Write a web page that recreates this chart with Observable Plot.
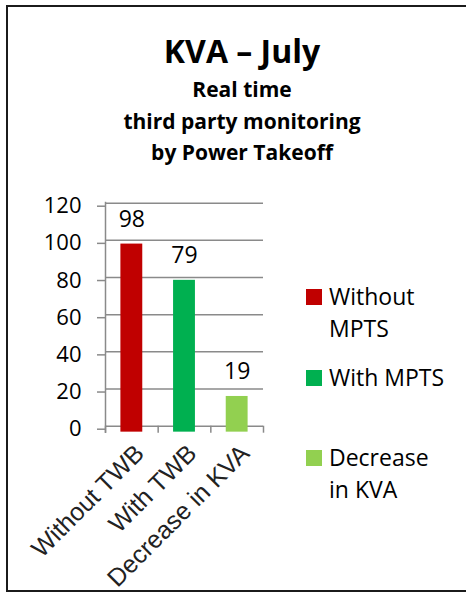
<!DOCTYPE html>
<html><head><meta charset="utf-8">
<script src="https://cdn.jsdelivr.net/npm/d3@7"></script>
<script src="https://cdn.jsdelivr.net/npm/@observablehq/plot@0.6"></script>
<style>
html,body{margin:0;padding:0;background:#fff;}
body{width:466px;height:592px;overflow:hidden;position:relative;font-family:"Open Sans",sans-serif;color:#000;}
#frame{position:absolute;left:6px;top:4.5px;width:480px;height:587.5px;box-sizing:border-box;border:2.2px solid #1b1b1b;border-right:none;}
.t{position:absolute;left:0;width:484px;text-align:center;font-weight:700;white-space:nowrap;}
#title{font-size:32px;line-height:32px;top:34.6px;}
#sub{font-size:21px;line-height:31.5px;top:74.1px;}
#chart{position:absolute;left:0;top:180px;}
.lg{position:absolute;left:306px;font-size:23px;line-height:31.5px;}
.lg .sw{position:absolute;left:0;width:16px;height:16px;}
.lg .tx{position:absolute;left:23px;white-space:nowrap;}
</style></head>
<body>
<div id="frame"></div>
<div id="title" class="t">KVA – July</div>
<div id="sub" class="t">Real time<br>third party monitoring<br>by Power Takeoff</div>
<div id="chart"></div>
<div id="legend"></div>
<script>
const categories = ["Without TWB", "With TWB", "Decrease in KVA"];
const valueLabels = [98, 79, 19];
const barTops = [98, 78.5, 16];
const barBase = -3.2;
const colors = ["#C00000", "#00B050", "#92D050"];
const legendLabels = [["Without", "MPTS"], ["With MPTS"], ["Decrease", "in KVA"]];
const yTicks = [0, 20, 40, 60, 80, 100, 120];

const data = categories.map((c, i) => ({c, i, top: barTops[i], label: valueLabels[i], color: colors[i]}));

const plot = Plot.plot({
  width: 300,
  height: 412,
  marginLeft: 105,
  marginRight: 37,
  marginTop: 22.7,
  marginBottom: 166.3,
  style: {fontFamily: "Open Sans, sans-serif", overflow: "visible", background: "transparent"},
  x: {type: "linear", domain: [0, 3]},
  y: {domain: [0, 120]},
  marks: [
    Plot.ruleY(yTicks, {x1: 0, x2: 3, stroke: "#8a8a8a", strokeWidth: 1.5}),
    Plot.ruleX([0], {y1: -3.9, y2: 120.5, stroke: "#8a8a8a", strokeWidth: 1.5}),
    Plot.axisY({ticks: yTicks, tickSize: 8, tickPadding: 16, fontSize: 22, stroke: "#8a8a8a", strokeWidth: 1.5, fill: "#000", dy: 3, label: null}),
    Plot.axisX({ticks: [0, 1, 2, 3], tickSize: 7, tickFormat: () => "", stroke: "#8a8a8a", strokeWidth: 1.5, label: null}),
    Plot.rect(data, {x1: "i", x2: d => d.i + 1, y1: barBase, y2: "top", fill: "color", insetLeft: 15.4, insetRight: 15.4}),
    Plot.text(data, {x: d => d.i + 0.5, y: "top", text: d => String(d.label), lineAnchor: "bottom", dy: -17, fontSize: 23, fill: "#000"}),
    Plot.text(data, {x: d => d.i + 0.5, y: 0, text: "c", rotate: -45, textAnchor: "end", lineAnchor: "middle", dx: 8, dy: 23, fontSize: 25, fontFamily: "Liberation Sans, Arial, sans-serif", fill: "#222"})
  ]
});
document.getElementById("chart").appendChild(plot);

const tops = [289, 370, 450];
const leg = document.getElementById("legend");
legendLabels.forEach((lines, i) => {
  const item = document.createElement("div");
  item.className = "lg";
  item.style.top = tops[i] + "px";
  const sw = document.createElement("div");
  sw.className = "sw";
  sw.style.background = colors[i];
  const tx = document.createElement("div");
  tx.className = "tx";
  tx.style.top = "-8px";
  tx.innerHTML = lines.join("<br>");
  item.appendChild(sw); item.appendChild(tx);
  leg.appendChild(item);
});
</script>
</body></html>
